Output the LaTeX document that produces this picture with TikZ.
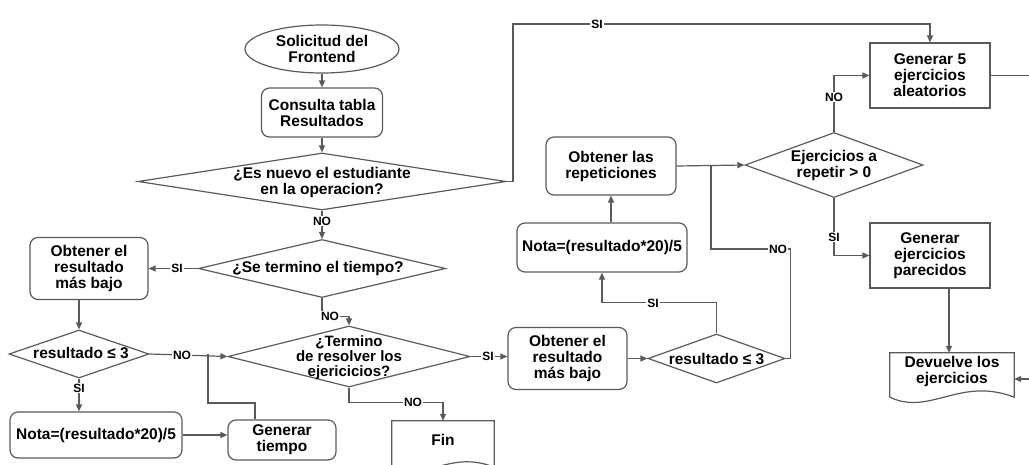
\documentclass[tikz,border=0pt]{standalone}
\usepackage{fontspec}
\setmainfont{Liberation Sans}
\usetikzlibrary{shapes.geometric,arrows.meta,calc}
\definecolor{ln}{HTML}{5A5A5A}
\begin{document}
\begin{tikzpicture}[x=1pt,y=-1pt,
  every node/.style={font=\bfseries\fontsize{15.5}{16}\selectfont, text=black},
  box/.style={draw=ln, line width=1.2pt, rounded corners=8pt, align=center, inner sep=0pt},
  sqbox/.style={draw=ln, line width=1.2pt, align=center, inner sep=0pt},
  dia/.style={draw=ln, line width=1.2pt, diamond, inner sep=0pt},
  ell/.style={draw=ln, line width=1.2pt, ellipse, inner sep=0pt, align=center},
  frame/.style={draw=none, inner sep=0pt},
  txt/.style={align=center, inner sep=0pt},
  conn/.style={draw=ln, line width=1.2pt, -{Triangle[length=7pt,width=6pt]}},
  plain/.style={draw=ln, line width=1.2pt},
  lbl/.style={font=\bfseries\fontsize{12}{12}\selectfont, fill=white, inner sep=1pt},
]
\useasboundingbox (0,0) rectangle (1029,464);
\clip (0,0) rectangle (1029,464);

% ---- nodes ----
\node[ell, minimum width=154pt, minimum height=48pt] (sol) at (322,49) {Solicitud del\\Frontend};
\node[box, minimum width=121pt, minimum height=49pt] (cons) at (322,112.5) {Consulta tabla\\Resultados};
\node[dia, minimum width=368pt, minimum height=57pt] (d1) at (322,181.5) {};
\node[txt] (d1t) at (322,182) {¿Es nuevo el estudiante\\en la operacion?};
\node[dia, minimum width=247pt, minimum height=58pt] (d2) at (322,268.5) {};
\node[txt] (d2t) at (318,268.5) {¿Se termino el tiempo?};
\node[box, minimum width=118pt, minimum height=62pt] (obt1) at (89,268.5) {Obtener el\\resultado\\más bajo};
\node[dia, minimum width=140pt, minimum height=48pt] (d3) at (79,354) {};
\node[txt] (d3t) at (81,353) {resultado ≤ 3};
\node[box, minimum width=172pt, minimum height=46pt] (nota1) at (96,435) {Nota=(resultado*20)/5};
\node[box, minimum width=108pt, minimum height=40pt] (gt) at (282,440) {Generar\\tiempo};
\node[dia, minimum width=242pt, minimum height=61pt] (d4) at (349,356.5) {};
\node[txt, font=\bfseries\fontsize{15}{15}\selectfont] (d4t) at (349,358) {¿Termino\\de resolver los\\ejericicios?};
\node[frame, minimum width=102pt, minimum height=46pt] (fin) at (443,444) {};
\node[txt] (fint) at (443,440) {Fin};
\node[box, minimum width=119pt, minimum height=62pt] (obt2) at (567.5,358.5) {Obtener el\\resultado\\más bajo};
\node[dia, minimum width=137pt, minimum height=49pt] (d5) at (716.5,358.5) {};
\node[txt] (d5t) at (716.5,358.5) {resultado ≤ 3};
\node[box, minimum width=170pt, minimum height=49pt] (nota2) at (602,247.5) {Nota=(resultado*20)/5};
\node[box, minimum width=130pt, minimum height=58pt] (rep) at (611,166) {Obtener las\\repeticiones};
\node[dia, minimum width=178pt, minimum height=65pt] (d6) at (834,165) {};
\node[txt] (d6t) at (834,165) {Ejercicios a\\repetir > 0};
\node[sqbox, minimum width=120pt, minimum height=65pt] (gen5) at (930,75.5) {Generar 5\\ejercicios\\aleatorios};
\node[sqbox, minimum width=120pt, minimum height=65pt] (genpar) at (930,255.5) {Generar\\ejercicios\\parecidos};
\node[frame, minimum width=124pt, minimum height=44pt] (dev) at (952,375) {};
\node[txt] (devt) at (952,371) {Devuelve los\\ejercicios};

% ---- document outlines ----
\draw[plain] (dev.south west) -- (dev.north west) -- (dev.north east) -- (dev.south east)
  .. controls ($(dev.south east)+(-54,-21)$) and ($(dev.south west)+(40,19)$) .. (dev.south west);
\draw[plain] (fin.south west) -- (fin.north west) -- (fin.north east) -- (fin.south east)
  .. controls ($(fin.south east)+(-45,-18)$) and ($(fin.south west)+(33,16)$) .. (fin.south west);

% ---- connectors ----
\coordinate (s1) at (513,24);
\coordinate (j1) at (208,403);
\coordinate (j3) at (711,249);
\coordinate (e1) at (1045,75.5);
\coordinate (e2) at (1045,379);

\draw[conn] (sol.south) -- (cons.north);
\draw[conn] (cons.south) -- (d1.north);
\draw[conn] (d1.east) -| (s1) -| (gen5.north);
\draw[conn] (d1.south) -- (d2.north);
\draw[conn] (d2.west) -- (obt1.east);
\draw[conn] (obt1.south -| d3.north) -- (d3.north);
\draw[conn] (d3.south) -- (d3.south |- nota1.north);
\draw[conn] (d3.east) -- (d4.west);
\draw[plain] ([xshift=-27pt]gt.north) |- (j1) -- (j1 |- d3.east);
\draw[conn] (nota1.east) -- (nota1.east -| gt.west);
\draw[conn] (d2.south) -- ++(0,18) -| (d4.north);
\draw[conn] (d4.east) -- (d4.east -| obt2.west);
\draw[conn] (d4.south) -- ++(0,15) -| (fin.north);
\draw[conn] (obt2.east) -- (d5.west);
\draw[conn] (d5.north) -- ++(0,-31) -| (nota2.south);
\draw[plain] (d5.east) -- ++(5,0) |- (j3) -- (j3 |- rep.east);
\draw[conn] (nota2.north -| rep.south) -- (rep.south);
\draw[conn] (rep.east) -- (d6.west);
\draw[conn] (d6.north) |- (gen5.west);
\draw[conn] (d6.south) |- (genpar.west);
\draw[conn] ([xshift=19pt]genpar.south) -- ([xshift=19pt]genpar.south |- dev.north);
\draw[conn] (gen5.east) -- (e1) -- (e2) -- (e2 -| dev.east);

% ---- connector labels ----
\node[lbl] (lsi1) at (597,24) {SI};
\node[lbl] (lno1) at (322,221) {NO};
\node[lbl] (lsi2) at (177,268.5) {SI};
\node[lbl] (lsi3) at (79,388) {SI};
\node[lbl] (lno2) at (182,355) {NO};
\node[lbl] (lno3) at (330,316) {NO};
\node[lbl] (lsi4) at (488,356.5) {SI};
\node[lbl] (lno4) at (413,402) {NO};
\node[lbl] (lsi5) at (653,303) {SI};
\node[lbl] (lno5) at (778,249) {NO};
\node[lbl] (lno6) at (834,97) {NO};
\node[lbl] (lsi6) at (834,237) {SI};
\end{tikzpicture}
\end{document}
